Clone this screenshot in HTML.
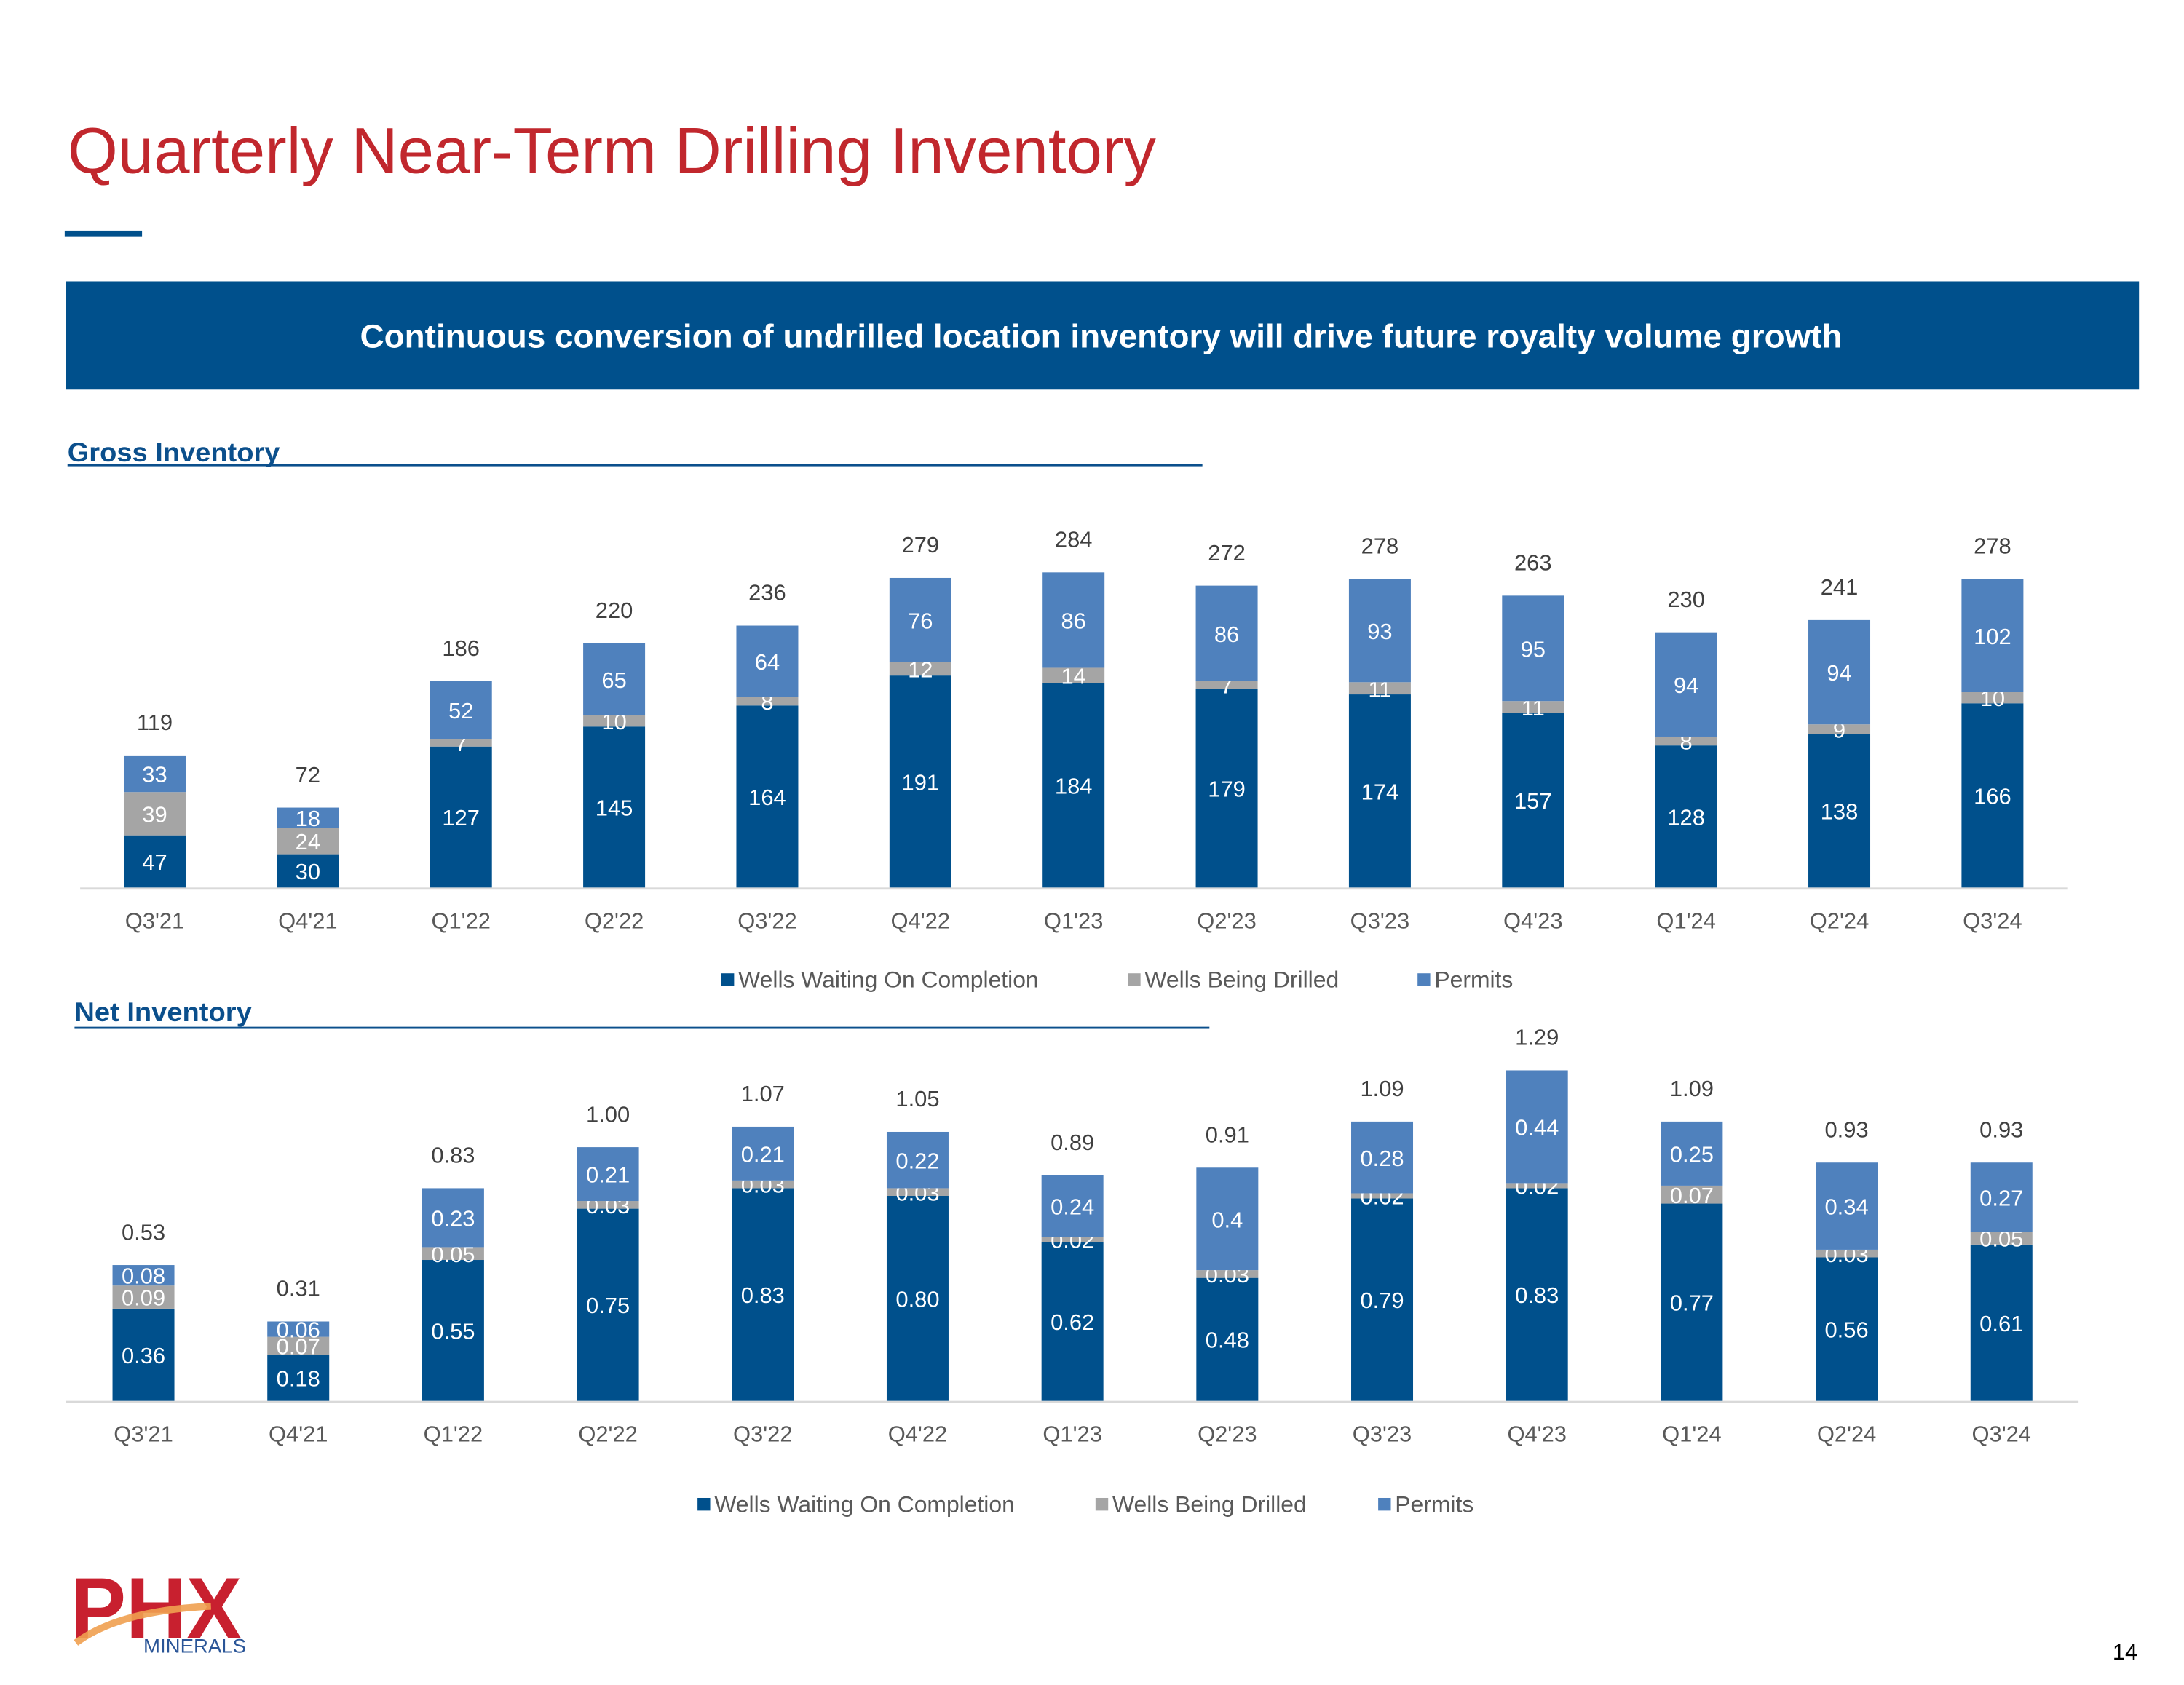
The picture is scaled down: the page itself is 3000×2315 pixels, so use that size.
<!DOCTYPE html>
<html><head><meta charset="utf-8"><style>
html,body{margin:0;padding:0;background:#fff;width:3000px;height:2315px;overflow:hidden}
svg{display:block;font-family:"Liberation Sans",sans-serif}
</style></head><body>
<svg id="s" width="3000" height="2315" viewBox="0 0 1553 1198" preserveAspectRatio="none" xmlns="http://www.w3.org/2000/svg">
<text x="48" y="123" font-size="46" fill="#C1272D" textLength="774" lengthAdjust="spacingAndGlyphs">Quarterly Near-Term Drilling Inventory</text>
<rect x="46" y="164" width="55" height="4" fill="#00508C"/>
<rect x="47" y="200" width="1474" height="77" fill="#00508C"/>
<text x="256" y="247" font-size="23.5" font-weight="bold" fill="#fff" textLength="1054" lengthAdjust="spacingAndGlyphs">Continuous conversion of undrilled location inventory will drive future royalty volume growth</text>
<text x="48" y="328" font-size="19" font-weight="bold" fill="#0B4F8C" textLength="151" lengthAdjust="spacingAndGlyphs">Gross Inventory</text>
<rect x="48" y="330" width="807" height="1.5" fill="#0B4F8C"/>
<text x="53" y="726" font-size="19" font-weight="bold" fill="#0B4F8C" textLength="126" lengthAdjust="spacingAndGlyphs">Net Inventory</text>
<rect x="53" y="730" width="807" height="1.5" fill="#0B4F8C"/>
<g>
<text x="50" y="1165" font-size="62" font-weight="bold" fill="#C8202F" textLength="122" lengthAdjust="spacingAndGlyphs">PHX</text>
<path d="M54 1168 Q 85 1145 150 1142" stroke="#F0A050" stroke-width="5" fill="none" opacity="0.9"/>
<text x="102" y="1175" font-size="14" fill="#2A5597" textLength="73" lengthAdjust="spacingAndGlyphs">MINERALS</text>
</g>
<text x="1520" y="1180" font-size="16" fill="#000" text-anchor="end">14</text>
<g id="gross"></g>
<g id="net"></g>
</svg>
<script>
const categories=["Q3'21","Q4'21","Q1'22","Q2'22","Q3'22","Q4'22","Q1'23","Q2'23","Q3'23","Q4'23","Q1'24","Q2'24","Q3'24"];
const grossWaiting=[47,30,127,145,164,191,184,179,174,157,128,138,166];
const grossDrilled=[39,24,7,10,8,12,14,7,11,11,8,9,10];
const grossPermits=[33,18,52,65,64,76,86,86,93,95,94,94,102];
const netWaiting=[0.36,0.18,0.55,0.75,0.83,0.80,0.62,0.48,0.79,0.83,0.77,0.56,0.61];
const netDrilled=[0.09,0.07,0.05,0.03,0.03,0.03,0.02,0.03,0.02,0.02,0.07,0.03,0.05];
const netPermits=[0.08,0.06,0.23,0.21,0.21,0.22,0.24,0.4,0.28,0.44,0.25,0.34,0.27];
const netTotals=[0.53,0.31,0.83,1.00,1.07,1.05,0.89,0.91,1.09,1.29,1.09,0.93,0.93];
const seriesNames=["Wells Waiting On Completion","Wells Being Drilled","Permits"];
const NS="http://www.w3.org/2000/svg";
const COLORS=["#00508C","#A5A5A5","#4F81BD"];
function mk(parent,tag,attrs,txt){const e=document.createElementNS(NS,tag);for(const k in attrs)e.setAttribute(k,attrs[k]);if(txt!==undefined)e.textContent=txt;parent.appendChild(e);return e;}
function draw(g,cfg){
  const xs=i=>cfg.x0+i*cfg.step;
  const ys=v=>cfg.base-v*cfg.scale;
  const ax=mk(g,'rect',{x:cfg.axL,y:cfg.base,width:cfg.axR-cfg.axL,height:1.5,fill:'#D9D9D9'});
  
  
  const series=[cfg.w,cfg.d,cfg.p];
  categories.forEach((c,i)=>{
    let acc=0;
    series.forEach((arr,s)=>{
      const v=arr[i];
      const y1=ys(acc),y2=ys(acc+v);
      const r=mk(g,'rect',{x:xs(i)-22,y:y2,width:44,height:y1-y2,fill:COLORS[s]});
      
      
      const t=mk(g,'text',{x:xs(i),y:(y1+y2)/2+6,'font-size':16,fill:'#fff','text-anchor':'middle'},cfg.fmt(v));
      
      
      acc+=v;
    });
    const tot=cfg.totals?cfg.totals[i]:acc;
    const tl=mk(g,'text',{x:xs(i),y:ys(acc)-18,'font-size':16,fill:'#404040','text-anchor':'middle'},cfg.fmtT(tot));
    
    
    const cl=mk(g,'text',{x:xs(i),y:cfg.base+29,'font-size':16,fill:'#595959','text-anchor':'middle'},c);
    
    
  });
  seriesNames.forEach((n,s)=>{
    const sq=mk(g,'rect',{x:cfg.leg[s],y:cfg.legY-11,width:9,height:9,fill:COLORS[s]});
    
    
    const lt=mk(g,'text',{x:cfg.leg[s]+12,y:cfg.legY-1,'font-size':16.5,fill:'#595959'},n);
    
    
  });
}
draw(document.getElementById('gross'),{x0:110,step:108.9,base:631,scale:0.789,axL:57,axR:1470,w:grossWaiting,d:grossDrilled,p:grossPermits,fmt:v=>String(v),fmtT:v=>String(v),leg:[513,802,1008],legY:703});
draw(document.getElementById('net'),{x0:102,step:110.1,base:996,scale:182.2,axL:47,axR:1478,w:netWaiting,d:netDrilled,p:netPermits,totals:netTotals,fmt:v=>(v===0.4?'0.4':v.toFixed(2)),fmtT:v=>v.toFixed(2),leg:[496,779,980],legY:1076});
</script>
</body></html>
